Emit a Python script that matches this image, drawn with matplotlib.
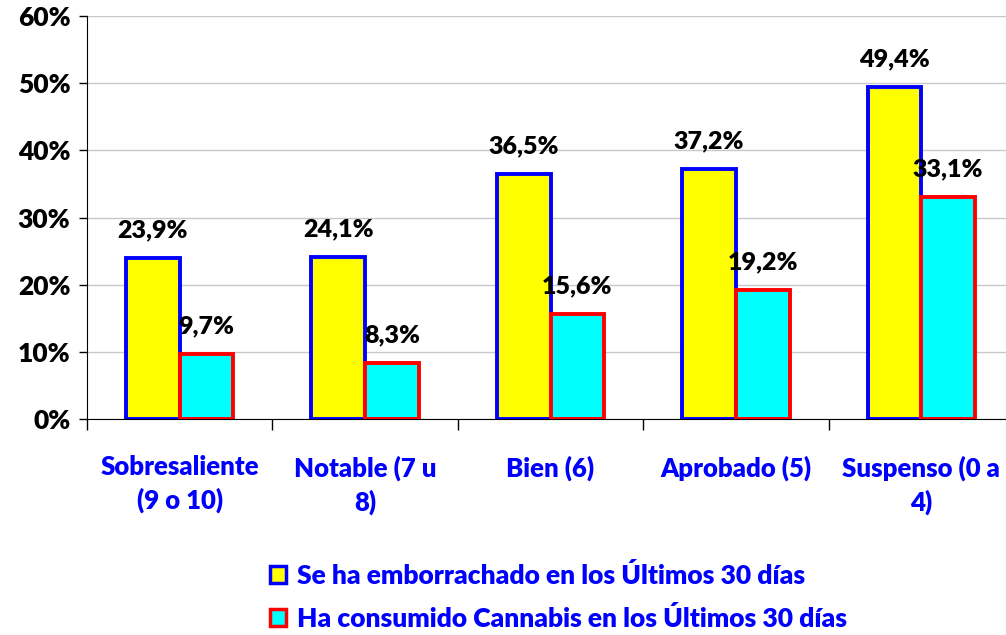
import matplotlib.pyplot as plt
from matplotlib.patches import Patch
from matplotlib.ticker import FixedLocator, PercentFormatter
import numpy as np

plt.rcParams['font.family'] = ['Lato', 'DejaVu Sans']
plt.rcParams['font.weight'] = 'heavy'

categorias = ['Sobresaliente\n(9 o 10)', 'Notable (7 u\n8)', 'Bien (6)', 'Aprobado (5)', 'Suspenso (0 a\n4)']
emborrachado = [23.9, 24.1, 36.5, 37.2, 49.4]
cannabis = [9.7, 8.3, 15.6, 19.2, 33.1]
series = ['Se ha emborrachado en los Últimos 30 días', 'Ha consumido Cannabis en los Últimos 30 días']

fig = plt.figure(figsize=(10.06, 6.35), dpi=100)
ax = fig.add_axes([87 / 1006, 216 / 635, 927 / 1006, 403 / 635])

x = np.arange(len(categorias))
w = 0.29
b1 = ax.bar(x - w / 2, emborrachado, w, color='#ffff00', edgecolor='#0000ff', linewidth=2.8, zorder=3)
b2 = ax.bar(x + w / 2, cannabis, w, color='#00ffff', edgecolor='#ff0000', linewidth=2.8, zorder=3)

for bars, vals in ((b1, emborrachado), (b2, cannabis)):
    for r, v in zip(bars, vals):
        ax.annotate(f'{v:.1f}%'.replace('.', ','), (r.get_x() + r.get_width() / 2, v),
                    xytext=(0, 12), textcoords='offset points', ha='center', va='bottom',
                    fontsize=18, fontweight='heavy', color='black')

ax.set_xlim(-0.5, len(categorias) - 0.5)
ax.set_ylim(0, 60)
ax.set_yticks(np.arange(0, 61, 10))
ax.yaxis.set_major_formatter(PercentFormatter(decimals=0))
ax.tick_params(axis='y', labelsize=19, length=6, width=1, pad=6)
ax.grid(axis='y', color='#c8c8c8', linewidth=1, zorder=0)

ax.xaxis.set_major_locator(FixedLocator(np.arange(-0.5, len(categorias), 1)))
ax.xaxis.set_major_formatter(plt.NullFormatter())
ax.set_xticks(x, minor=True)
ax.set_xticklabels(categorias, minor=True, fontsize=18.5, fontweight='heavy', color='#0000ff', linespacing=1.4)
ax.tick_params(axis='x', which='major', length=8, width=1)
ax.tick_params(axis='x', which='minor', length=0, pad=26)

for s in ('top', 'right'):
    ax.spines[s].set_visible(False)
ax.spines['left'].set_color('black')
ax.spines['bottom'].set_color('black')

handles = [Patch(facecolor='#ffff00', edgecolor='#0000ff', linewidth=2.5),
           Patch(facecolor='#00ffff', edgecolor='#ff0000', linewidth=2.5)]
leg = fig.legend(handles, series, loc='upper left', bbox_to_anchor=(246 / 1006, 1 - 539 / 635),
                 frameon=False, fontsize=19, handlelength=0.62, handleheight=0.62,
                 handletextpad=0.4, labelspacing=0.7)
for t in leg.get_texts():
    t.set_color('#0000ff')
    t.set_fontweight('heavy')

fig.savefig('out.png', dpi=100)
